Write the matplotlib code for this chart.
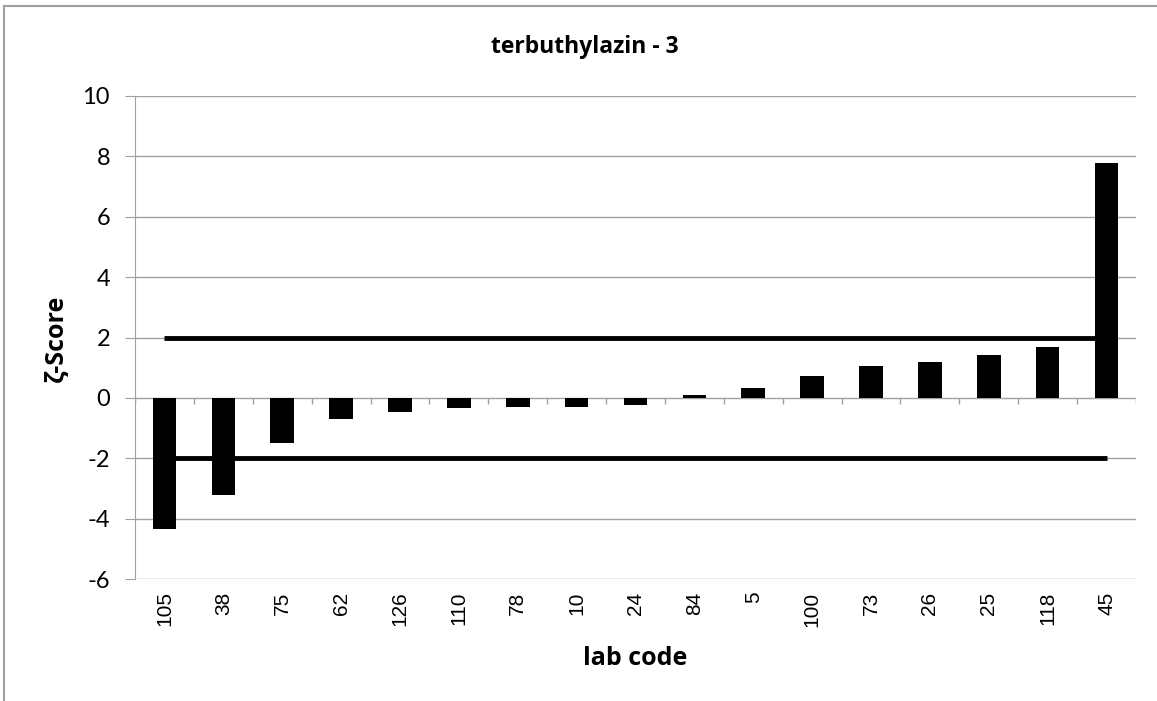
import matplotlib
matplotlib.use("Agg")
import matplotlib.pyplot as plt
from matplotlib.lines import Line2D
import numpy as np

labs = ["105", "38", "75", "62", "126", "110", "78", "10", "24", "84", "5",
        "100", "73", "26", "25", "118", "45"]
scores = [-4.34, -3.21, -1.49, -0.70, -0.46, -0.33, -0.30, -0.30, -0.22, 0.08,
          0.32, 0.74, 1.05, 1.18, 1.41, 1.70, 7.78]
upper_limit = 2
lower_limit = -2
yticks = [-6, -4, -2, 0, 2, 4, 6, 8, 10]

W, H = 1157, 701
def fx(px):
    return px / W
def fy(py):
    return 1 - py / H

GRID = "#a0a0a0"

fig = plt.figure(figsize=(W / 100, H / 100), dpi=100)
ax = fig.add_axes([fx(135), fy(579), fx(1136) - fx(135), fy(96) - fy(579)])

x = np.arange(len(labs))
ax.set_xlim(-0.5, len(labs) - 0.5)
ax.set_ylim(-6, 10)

for yv in yticks:
    ax.axhline(yv, color=GRID, lw=1.0, zorder=0)

ax.bar(x, scores, width=0.40, color="black", zorder=2)
ax.plot([x[0], x[-1]], [upper_limit, upper_limit], color="black", lw=3.5, zorder=3, solid_capstyle="butt")
ax.plot([x[0], x[-1]], [lower_limit, lower_limit], color="black", lw=3.5, zorder=3, solid_capstyle="butt")

# category tick marks at the zero line
bounds = np.arange(len(labs) + 1) - 0.5
ax.vlines(bounds, -0.2, 0, color=GRID, lw=1.0, zorder=1)

for s in ["top", "right", "bottom"]:
    ax.spines[s].set_visible(False)
ax.spines["left"].set_color(GRID)

ax.set_yticks(yticks)
ax.set_yticklabels([str(v) for v in yticks], fontsize=17, family=["Lato", "DejaVu Sans"])
ax.tick_params(axis="y", length=7, color=GRID, pad=11)
ax.set_xticks(x)
ax.set_xticklabels(labs, rotation=90, fontsize=15, family="Liberation Sans", va="top")
ax.tick_params(axis="x", length=0, pad=9)

fig.text(fx(585), fy(53), "terbuthylazin - 3", fontsize=16.5, fontweight="bold",
         family="Open Sans", ha="center", va="baseline")
fig.text(fx(56), fy(338), "ζ-Score", fontsize=18, fontweight="bold",
         family=["Open Sans", "DejaVu Sans"], ha="center", va="center", rotation=90)
fig.text(fx(635), fy(665), "lab code", fontsize=18, fontweight="bold",
         family="Open Sans", ha="center", va="baseline")

# chart area border (top and left visible)
fig.lines.append(Line2D([fx(4), fx(1157)], [fy(6), fy(6)], transform=fig.transFigure, color=GRID, lw=1.5))
fig.lines.append(Line2D([fx(4), fx(4)], [fy(6), fy(701)], transform=fig.transFigure, color=GRID, lw=1.5))

fig.savefig("out.png", dpi=100)
